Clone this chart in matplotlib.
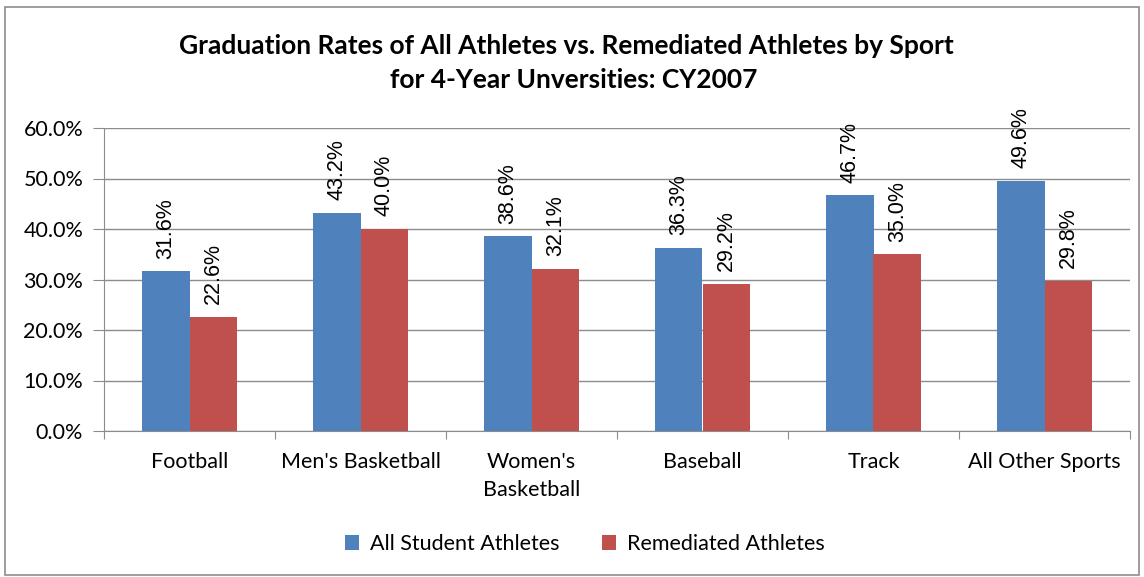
import matplotlib
matplotlib.use("Agg")
import matplotlib.pyplot as plt
import numpy as np
from matplotlib.patches import Rectangle

categories = ["Football", "Men's Basketball", "Women's\nBasketball", "Baseball", "Track", "All Other Sports"]
all_athletes = [31.6, 43.2, 38.6, 36.3, 46.7, 49.6]
remediated = [22.6, 40.0, 32.1, 29.2, 35.0, 29.8]
series_names = ["All Student Athletes", "Remediated Athletes"]
yticks = [0, 10, 20, 30, 40, 50, 60]

plt.rcParams['font.family'] = ['Lato', 'DejaVu Sans']

fig = plt.figure(figsize=(11.44, 5.77), dpi=100)
ax = fig.add_axes([104/1144, 1-431/577, (1130-104)/1144, 303/577])

x = np.arange(len(categories))
w = 0.28
blue = "#4F81BD"
red = "#C0504D"
b1 = ax.bar(x - w/2, all_athletes, w, color=blue, label=series_names[0], zorder=2)
b2 = ax.bar(x + w/2, remediated, w, color=red, label=series_names[1], zorder=2)

for bars, vals in ((b1, all_athletes), (b2, remediated)):
    for rect, v in zip(bars, vals):
        ax.annotate(f"{v:.1f}%", (rect.get_x() + rect.get_width()/2, v),
                    xytext=(0, 9), textcoords="offset points", rotation=90,
                    ha="center", va="bottom", fontsize=15.5,
                    family=["Liberation Sans"], color="black", zorder=1)

ax.set_xlim(-0.5, len(categories) - 0.5)
ax.set_ylim(0, 60)
ax.set_yticks(yticks)
ax.set_yticklabels([f"{t:.1f}%" for t in yticks], fontsize=15.5)
ax.yaxis.grid(True, color="#8c8c8c", linewidth=1, zorder=0)
ax.set_axisbelow(True)

ax.set_xticks(np.arange(len(categories) + 1) - 0.5)
ax.set_xticklabels([])
ax.set_xticks(x, minor=True)
ax.set_xticklabels(categories, minor=True, fontsize=15.5, linespacing=1.5)
ax.tick_params(axis="x", which="minor", length=0, pad=15)
ax.tick_params(axis="x", which="major", length=6, color="#8c8c8c")
ax.tick_params(axis="y", length=8, color="#8c8c8c", pad=7)

for s in ("top", "right"):
    ax.spines[s].set_visible(False)
for s in ("left", "bottom"):
    ax.spines[s].set_color("#8c8c8c")

fig.text(566/1144, 1-46/577, "Graduation Rates of All Athletes vs. Remediated Athletes by Sport",
         ha="center", va="center", fontsize=19, fontweight="bold")
fig.text(574/1144, 1-80/577, "for 4-Year Unversities: CY2007",
         ha="center", va="center", fontsize=19, fontweight="bold")

fig.legend(handles=[b1, b2], labels=series_names, loc="center", bbox_to_anchor=(585/1144, 1-544/577),
           ncol=2, frameon=False, fontsize=15.5, handlelength=0.65, handleheight=0.65,
           handletextpad=0.5, columnspacing=2.0)

fig.add_artist(Rectangle((5/1144, 2/577), 1134/1144, 568/577, transform=fig.transFigure,
                         fill=False, edgecolor="#8c8c8c", linewidth=1.2))

fig.savefig("out.png", dpi=100)
